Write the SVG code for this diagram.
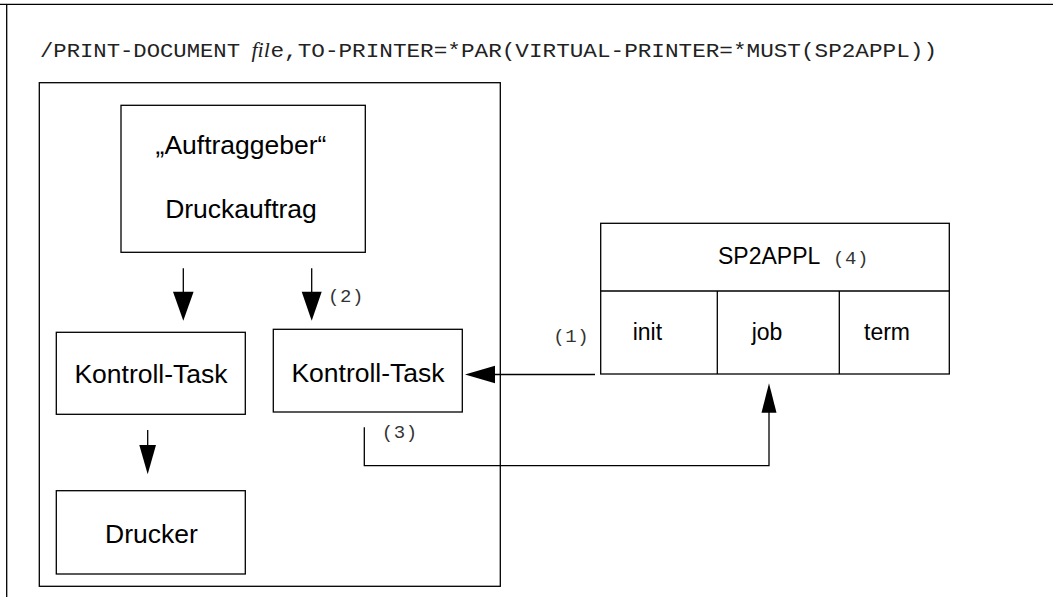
<svg xmlns="http://www.w3.org/2000/svg" width="1053" height="597" viewBox="0 0 1053 597">
<style>
.box{fill:none;stroke:#000;stroke-width:1.3}
.ln{fill:none;stroke:#000;stroke-width:1.3}
.lbl{font-family:"Liberation Sans",Arial,sans-serif;font-size:26.5px;fill:#000;text-anchor:middle}
.lbl2{font-family:"Liberation Sans",Arial,sans-serif;font-size:23px;fill:#000}
.num{font-family:"Liberation Mono","DejaVu Sans Mono",monospace;font-size:19px;letter-spacing:0.6px;fill:#333}
.cmd{font-family:"Liberation Mono","DejaVu Sans Mono",monospace;font-size:21px;fill:#222}
.ah{fill:#000}
</style>
<rect width="1053" height="597" fill="#fff"/>
<g id="frame">
<path class="ln" d="M0 4.3H1053M6.7 4.3V597"/>
</g>
<g id="command">
<text class="cmd" x="40" y="57" textLength="200" lengthAdjust="spacingAndGlyphs">/PRINT-DOCUMENT</text>
<text x="251.5" y="57" font-family="'Liberation Serif',serif" font-style="italic" font-size="22px" fill="#222">fil</text>
<text class="cmd" x="270.5" y="57" textLength="666.5" lengthAdjust="spacingAndGlyphs">e,TO-PRINTER=*PAR(VIRTUAL-PRINTER=*MUST(SP2APPL))</text>
</g>
<g id="host">
<rect class="box" x="39.3" y="82.7" width="461" height="503.6"/>
</g>
<g id="auftraggeber">
<rect class="box" x="121" y="105.3" width="244.3" height="147"/>
<text class="lbl" x="241" y="154">„Auftraggeber“</text>
<text class="lbl" x="241" y="218">Druckauftrag</text>
</g>
<g id="kontroll-task-1">
<rect class="box" x="56.3" y="332.3" width="189" height="82"/>
<text class="lbl" x="151" y="383">Kontroll-Task</text>
</g>
<g id="kontroll-task-2">
<rect class="box" x="273.3" y="329.3" width="189" height="82.7"/>
<text class="lbl" x="368" y="381.7">Kontroll-Task</text>
</g>
<g id="drucker">
<rect class="box" x="56.3" y="490.7" width="189" height="83.3"/>
<text class="lbl" x="151.5" y="542.7">Drucker</text>
</g>
<g id="sp2appl">
<rect class="box" x="600.7" y="223.3" width="348.6" height="150.7"/>
<path class="ln" d="M600.7 291H949.3M717.3 291V374M839.3 291V374"/>
<text class="lbl2" x="718" y="264.3">SP2APPL</text>
<text class="num" x="833" y="264.3">(4)</text>
<text class="lbl2" x="632.7" y="340">init</text>
<text class="lbl2" x="751.7" y="340">job</text>
<text class="lbl2" x="864" y="340">term</text>
</g>
<g id="connectors">
<path class="ln" d="M183.3 268.3V292"/>
<polygon class="ah" points="173,291.7 193.6,291.7 183.3,320.7"/>
<path class="ln" d="M311.7 268.3V292"/>
<polygon class="ah" points="301.7,291.7 321.7,291.7 311.7,320.7"/>
<path class="ln" d="M147.7 430V446"/>
<polygon class="ah" points="139.3,445 156,445 147.7,474.3"/>
<path class="ln" d="M595 374.5H494"/>
<polygon class="ah" points="465,374.5 495,365.7 495,383.3"/>
<path class="ln" d="M364.3 427.3V465.7H769V412"/>
<polygon class="ah" points="769,383.3 761.5,412.7 776.5,412.7"/>
<text class="num" x="328" y="301.7">(2)</text>
<text class="num" x="553.3" y="341.7">(1)</text>
<text class="num" x="381.7" y="438">(3)</text>
</g>
</svg>
